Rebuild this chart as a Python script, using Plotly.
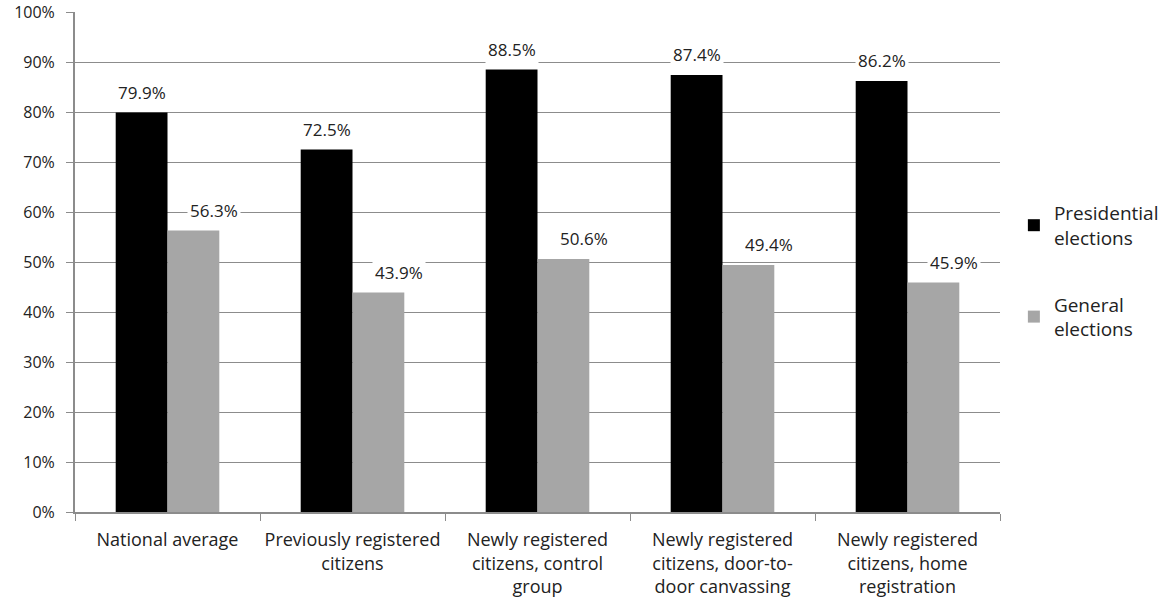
import plotly.graph_objects as go

categories = [
    "National average",
    "Previously registered<br>citizens",
    "Newly registered<br>citizens, control<br>group",
    "Newly registered<br>citizens, door-to-<br>door canvassing",
    "Newly registered<br>citizens, home<br>registration",
]
presidential = [79.9, 72.5, 88.5, 87.4, 86.2]
general = [56.3, 43.9, 50.6, 49.4, 45.9]

FONT = "Open Sans"
TXT = "#222222"
GRID = "#8c8c8c"

fig = go.Figure()
fig.add_trace(go.Bar(
    x=categories, y=[v / 100 for v in presidential],
    name="Presidential<br>elections", legendgroup="pres",
    marker=dict(color="#000000", line=dict(width=0)),
))
fig.add_trace(go.Bar(
    x=categories, y=[v / 100 for v in general],
    name="General<br>elections", legendgroup="gen",
    marker=dict(color="#a6a6a6", line=dict(width=0)),
))

# value labels with white boxes that interrupt the gridlines;
# the general-election labels sit a little to the right of their bars
group_w = 1 - 0.44
for i, cat in enumerate(categories):
    for vals, side, dx in ((presidential, -1, 0), (general, 1, 21)):
        fig.add_annotation(
            x=i + side * group_w / 4, y=vals[i] / 100,
            xref="x", yref="y", text=f"{vals[i]:.1f}%",
            showarrow=False, yanchor="bottom", yshift=6, xshift=dx,
            bgcolor="white", borderpad=2,
            font=dict(family=FONT, size=17, color=TXT),
        )

fig.update_layout(
    width=1169, height=606,
    margin=dict(l=75, r=169, t=12, b=94, autoexpand=False),
    plot_bgcolor="white", paper_bgcolor="white",
    barmode="group", bargap=0.44, bargroupgap=0,
    font=dict(family=FONT, size=17, color=TXT),
    legend=dict(
        x=1.015, y=0.636, xanchor="left", yanchor="top",
        font=dict(family=FONT, size=19, color=TXT),
        itemwidth=30, tracegroupgap=39, traceorder="grouped",
    ),
    showlegend=True,
    xaxis=dict(
        type="category", showline=True, linecolor=GRID, linewidth=1.5,
        ticks="outside", tickson="boundaries", ticklen=7, tickcolor=GRID,
        showgrid=False, automargin=False, ticklabelstandoff=11,
        tickfont=dict(family=FONT, size=18, color=TXT),
    ),
    yaxis=dict(
        range=[0, 1], dtick=0.1, tickformat=".0%",
        showline=True, linecolor=GRID, linewidth=2,
        ticks="outside", ticklen=7, tickcolor=GRID,
        showgrid=True, gridcolor=GRID, gridwidth=1, zeroline=False,
        automargin=False, ticklabelstandoff=8,
        tickfont=dict(family=FONT, size=16, color=TXT),
    ),
)

fig.write_html("out.html")
